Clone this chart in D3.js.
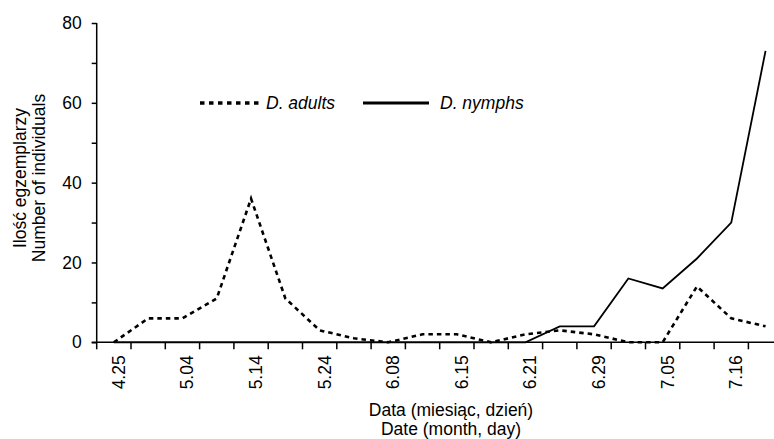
<!DOCTYPE html>
<html>
<head>
<meta charset="utf-8">
<script src="https://cdn.jsdelivr.net/npm/d3@7"></script>
<style>
    body { margin: 0; background: #fff; }
    svg { display: block; font-family: "Liberation Sans", Arial, sans-serif; }
    .domain { stroke: #000; stroke-width: 1.5; }
</style>
</head>
<body>
<svg id="chart" width="774" height="439"></svg>
<script>
// sampling dates, only every second one is labelled on the axis
const tickLabels = ["4.25", "", "5.04", "", "5.14", "", "5.24", "", "6.08", "",
    "6.15", "", "6.21", "", "6.29", "", "7.05", "", "7.16", ""];

// D. adults (dotted)
const adults = [0, 6, 6, 11, 36, 11, 3, 1, 0, 2, 2, 0, 2, 3, 2, 0, 0, 14, 6, 4];
// D. nymphs (solid)
const nymphs = [0, 0, 0, 0, 0, 0, 0, 0, 0, 0, 0, 0, 0, 4, 4, 16, 13.5, 21, 30, 73];

const yTicks = [0, 10, 20, 30, 40, 50, 60, 70, 80];

(function() {
    const svg = d3.select("#chart");

    const left = 96.7, step = 34.3, bottom = 342.3, top = 23;
    const fontSize = 17.5;

    const x = d3.scaleBand()
        .domain(d3.range(tickLabels.length))
        .range([left, left + step * tickLabels.length]);

    const y = d3.scaleLinear()
        .domain([0, 80])
        .range([bottom, top]);

    const cx = i => x(i) + x.bandwidth() / 2;

    // y axis
    const yAxis = svg.append("g")
        .attr("transform", "translate(" + left + ",0)")
        .call(d3.axisLeft(y)
            .tickValues(yTicks)
            .tickSize(5)
            .tickPadding(10)
            .tickFormat(d => d % 20 === 0 ? d : ""));
    yAxis.selectAll(".tick line").attr("stroke", "#000").attr("stroke-width", 1.5);
    yAxis.selectAll("text").attr("font-size", fontSize).attr("fill", "#000");
    yAxis.select(".domain").attr("d", "M0," + top + "V" + bottom);

    // x axis: labels at category centres, tick marks between categories
    const xAxis = svg.append("g")
        .attr("transform", "translate(0," + bottom + ")")
        .call(d3.axisBottom(x).tickSize(0).tickFormat(i => tickLabels[i]));
    xAxis.select(".domain").attr("d", "M" + (left - 5) + ",0H774");
    xAxis.selectAll(".tick").attr("transform", i => "translate(" + cx(i) + ",0)");
    xAxis.selectAll("text")
        .attr("font-size", fontSize)
        .attr("fill", "#000")
        .attr("text-anchor", "end")
        .attr("transform", "rotate(-90)")
        .attr("x", -13)
        .attr("y", 11)
        .attr("dy", 0);

    svg.append("g")
        .selectAll("line")
        .data(d3.range(tickLabels.length + 1))
        .join("line")
        .attr("x1", i => left + step * i)
        .attr("x2", i => left + step * i)
        .attr("y1", bottom)
        .attr("y2", bottom + 7)
        .attr("stroke", "#000")
        .attr("stroke-width", 1.5);

    // series
    const line = d3.line()
        .x((d, i) => cx(i))
        .y(d => y(d));

    svg.append("path")
        .datum(nymphs)
        .attr("fill", "none")
        .attr("stroke", "#000")
        .attr("stroke-width", 1.8)
        .attr("d", line);

    svg.append("path")
        .datum(adults)
        .attr("fill", "none")
        .attr("stroke", "#000")
        .attr("stroke-width", 2.6)
        .attr("stroke-dasharray", "4.5,4")
        .attr("d", line);

    // legend
    const legend = svg.append("g").attr("font-size", fontSize).attr("font-style", "italic");
    legend.append("line")
        .attr("x1", 200).attr("x2", 262).attr("y1", 103).attr("y2", 103)
        .attr("stroke", "#000").attr("stroke-width", 3.5)
        .attr("stroke-dasharray", "4.5,4.5");
    legend.append("text").attr("x", 266).attr("y", 109).text("D. adults");
    legend.append("line")
        .attr("x1", 363).attr("x2", 429).attr("y1", 103).attr("y2", 103)
        .attr("stroke", "#000").attr("stroke-width", 3.2);
    legend.append("text").attr("x", 440).attr("y", 109).text("D. nymphs");

    // axis titles
    const yTitle = svg.append("text")
        .attr("transform", "translate(0,178) rotate(-90)")
        .attr("text-anchor", "middle")
        .attr("font-size", fontSize);
    yTitle.append("tspan").attr("x", 0).attr("y", 26).text("Ilość egzemplarzy");
    yTitle.append("tspan").attr("x", 0).attr("y", 44.5).text("Number of individuals");

    const xTitle = svg.append("text")
        .attr("text-anchor", "middle")
        .attr("font-size", fontSize);
    xTitle.append("tspan").attr("x", 451).attr("y", 416).text("Data (miesiąc, dzień)");
    xTitle.append("tspan").attr("x", 451).attr("y", 435).text("Date (month, day)");
})();
</script>
</body>
</html>
